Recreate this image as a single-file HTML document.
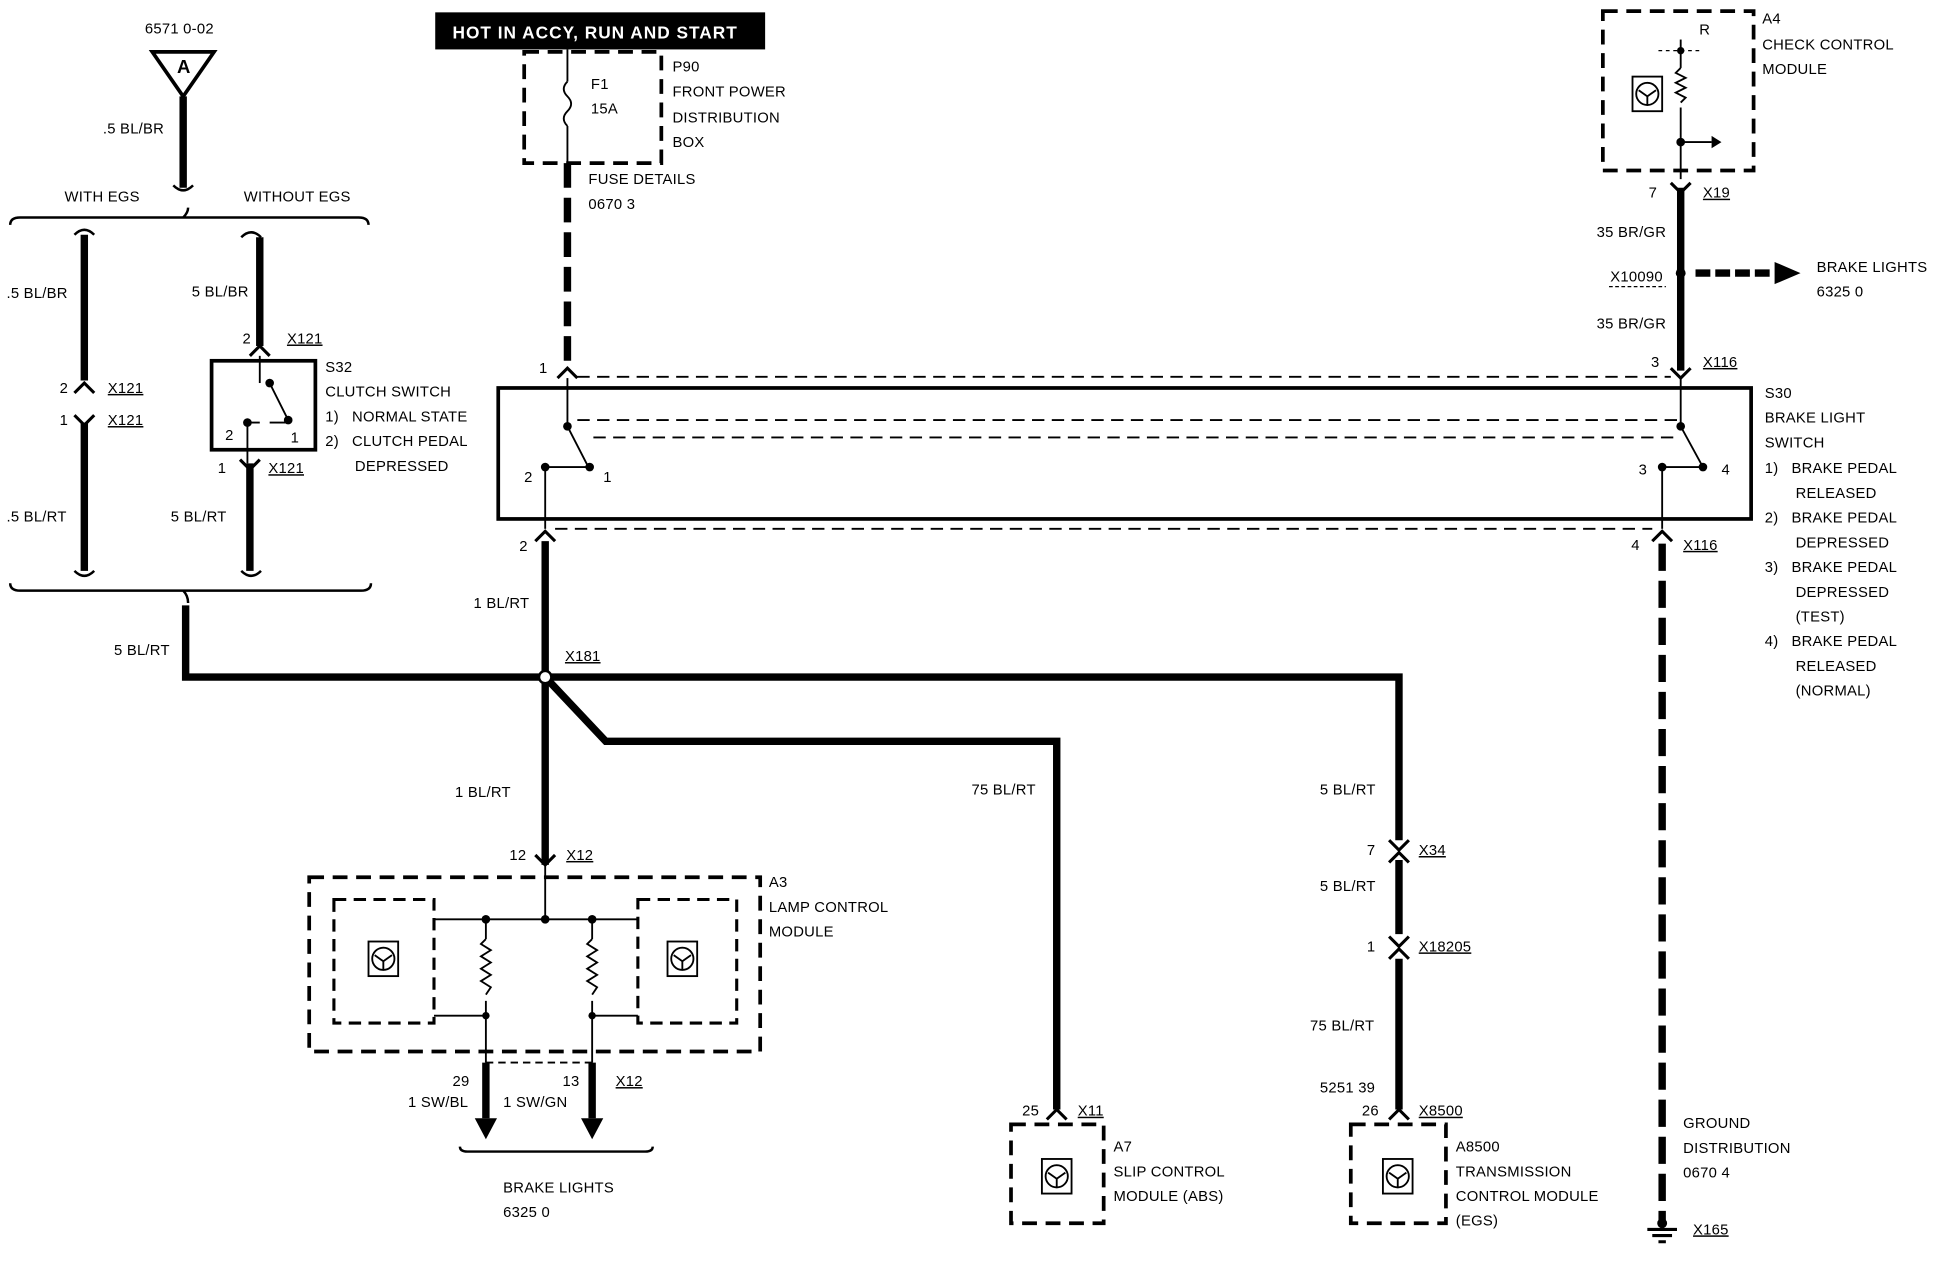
<!DOCTYPE html>
<html><head><meta charset="utf-8"><style>
html,body{margin:0;padding:0;background:#fff}
svg{display:block}
text{font-family:"Liberation Sans",sans-serif;font-size:12px;fill:#000;letter-spacing:0.2px}
</style></head><body>
<svg width="1938" height="1264" viewBox="0 0 1568 1023" xmlns="http://www.w3.org/2000/svg">
<defs>
<g id="ico"><rect x="-12" y="-14" width="24" height="28" fill="none" stroke="#000" stroke-width="1.5"/><circle r="9" fill="none" stroke="#000" stroke-width="1.5"/><path d="M-7,-3 L0,2 L7,-3 M0,2 L0,9" stroke="#000" stroke-width="1.5" fill="none"/></g>
</defs>
<g stroke="#000" fill="none" stroke-linecap="butt">
<!-- antenna A -->
<path d="M123,42 L173,42 L148,78 Z" stroke-width="3"/>
<line x1="148" y1="78" x2="148" y2="152" stroke-width="6"/>
<path d="M140,150 q8,8 16,0" stroke-width="2"/>
<!-- brackets -->
<path d="M8,182 q0,-6 8,-6 L290,176 q8,0 8,6 M148,176 q4,-4 4,-8" stroke-width="2"/>
<path d="M8,472 q0,6 8,6 L292,478 q8,0 8,-6 M148,478 q4,4 4,10" stroke-width="2"/>
<!-- left wire -->
<path d="M60,190 q8,-8 16,0 M60,462 q8,8 16,0" stroke-width="2"/>
<line x1="68" y1="190" x2="68" y2="308" stroke-width="6"/>
<line x1="68" y1="342" x2="68" y2="462" stroke-width="6"/>
<path d="M60,318 l8,-8 l8,8 M60,336 l8,8 l8,-8" stroke-width="2.5"/>
<!-- right EGS wire -->
<path d="M195,192 q8,-8 16,0 M195,462 q8,8 16,0" stroke-width="2"/>
<line x1="210" y1="192" x2="210" y2="280" stroke-width="6"/>
<path d="M202,288 l8,-8 l8,8" stroke-width="2.5"/>
<line x1="210" y1="288" x2="210" y2="310" stroke-width="1.5"/>
<rect x="171" y="292" width="84" height="72" stroke-width="3"/>
<path d="M218,310 L233,340 M200,342 L210,342 M218,342 L233,342" stroke-width="1.5"/>
<path d="M200,342 L200,375" stroke-width="1.5"/>
<line x1="202" y1="375" x2="202" y2="462" stroke-width="6"/>
<path d="M194,372 l8,8 l8,-8" stroke-width="2.5"/>
<!-- X121 feed to X181 -->
<polyline points="150,490 150,548 1132,548 1132,680" stroke-width="6"/>
<!-- fuse box -->
<rect x="424" y="42" width="111" height="90" stroke-width="3" stroke-dasharray="12,7"/>
<line x1="459" y1="40" x2="459" y2="66" stroke-width="1.5"/>
<path d="M459,66 q-6,6 0,12 q6,6 0,12 q-6,6 0,12" stroke-width="1.5"/>
<line x1="459" y1="102" x2="459" y2="132" stroke-width="1.5"/>
<line x1="459" y1="132" x2="459" y2="298" stroke-width="6" stroke-dasharray="20,8"/>
<path d="M451,306 l8,-8 l8,8" stroke-width="2.5"/>
<!-- S30 -->
<rect x="403" y="314" width="1014" height="106" stroke-width="3"/>
<line x1="467" y1="305" x2="1352" y2="305" stroke-width="1.5" stroke-dasharray="10,6"/>
<line x1="449" y1="428" x2="1337" y2="428" stroke-width="1.5" stroke-dasharray="10,6"/>
<line x1="467" y1="340" x2="1360" y2="340" stroke-width="1.5" stroke-dasharray="10,6"/>
<line x1="480" y1="354" x2="1360" y2="354" stroke-width="1.5" stroke-dasharray="10,6"/>
<line x1="459" y1="306" x2="459" y2="345" stroke-width="1.5"/>
<path d="M459,345 L477,380 M442,378 L477,378" stroke-width="1.5" stroke-dasharray="0"/>
<line x1="441" y1="378" x2="441" y2="428" stroke-width="1.5"/>
<path d="M433,438 l8,-8 l8,8" stroke-width="2.5"/>
<line x1="441" y1="438" x2="441" y2="700" stroke-width="6"/>
<line x1="1360" y1="306" x2="1360" y2="345" stroke-width="1.5"/>
<path d="M1360,345 L1378,378 M1345,378 L1378,378" stroke-width="1.5"/>
<line x1="1345" y1="378" x2="1345" y2="428" stroke-width="1.5"/>
<path d="M1337,438 l8,-8 l8,8" stroke-width="2.5"/>
<line x1="1345" y1="440" x2="1345" y2="988" stroke-width="6" stroke-dasharray="22,8"/>
<path d="M1333,995 L1357,995 M1337,1000 L1353,1000 M1342,1005 L1348,1005" stroke-width="2.5"/>
<!-- A4 -->
<rect x="1297" y="9" width="122" height="129" stroke-width="3" stroke-dasharray="12,7"/>
<line x1="1360" y1="32" x2="1360" y2="55" stroke-width="1.5"/>
<path d="M1342,41 L1378,41" stroke-width="1" stroke-dasharray="3,3"/>
<path d="M1360,55 l-4,4 l8,4 l-8,4 l8,4 l-8,4 l8,4 l-4,4" stroke-width="1.5"/>
<line x1="1360" y1="87" x2="1360" y2="145" stroke-width="1.5"/>
<path d="M1360,115 L1385,115" stroke-width="1.5"/>
<path d="M1385,110 L1393,115 L1385,120 Z" fill="#000" stroke="none"/>
<use href="#ico" x="1333" y="76"/>
<path d="M1352,148 l8,8 l8,-8" stroke-width="2.5"/>
<line x1="1360" y1="152" x2="1360" y2="300" stroke-width="6"/>
<path d="M1352,298 l8,8 l8,-8" stroke-width="2.5"/>
<path d="M1372,221 L1436,221" stroke-width="6" stroke-dasharray="12,4"/>
<path d="M1436,212 L1457,221 L1436,230 Z" fill="#000" stroke="none"/>
<line x1="1302" y1="232" x2="1348" y2="232" stroke-width="1" stroke-dasharray="3,2"/>
<!-- junction -->
<polyline points="441,548 490,600 855,600 855,898" stroke-width="6"/>
<path d="M847,906 l8,-8 l8,8" stroke-width="2.5"/>
<path d="M1124,680 l8,8 l8,-8 M1124,698 l8,-8 l8,8" stroke-width="2.5"/>
<line x1="1132" y1="696" x2="1132" y2="756" stroke-width="6"/>
<path d="M1124,758 l8,8 l8,-8 M1124,776 l8,-8 l8,8" stroke-width="2.5"/>
<line x1="1132" y1="776" x2="1132" y2="898" stroke-width="6"/>
<path d="M1124,906 l8,-8 l8,8" stroke-width="2.5"/>
<!-- A7, A8500 -->
<rect x="818" y="910" width="75" height="80" stroke-width="3" stroke-dasharray="12,7"/>
<use href="#ico" x="855" y="952"/>
<rect x="1093" y="910" width="77" height="80" stroke-width="3" stroke-dasharray="12,7"/>
<use href="#ico" x="1131" y="952"/>
<!-- A3 -->
<path d="M433,692 l8,8 l8,-8" stroke-width="2.5"/>
<rect x="250" y="710" width="365" height="141" stroke-width="3" stroke-dasharray="12,7"/>
<rect x="270" y="728" width="81" height="100" stroke-width="2.5" stroke-dasharray="10,6"/>
<rect x="516" y="728" width="80" height="100" stroke-width="2.5" stroke-dasharray="10,6"/>
<use href="#ico" x="310" y="776"/>
<use href="#ico" x="552" y="776"/>
<line x1="441" y1="700" x2="441" y2="744" stroke-width="1.5"/>
<path d="M351,744 L516,744 M393,744 L393,760 M479,744 L479,760 M393,810 L393,860 M479,810 L479,860 M351,822 L393,822 M479,822 L516,822" stroke-width="1.5"/>
<path d="M393,760 l-4,4 l8,5 l-8,5 l8,5 l-8,5 l8,5 l-8,5 l8,5 l-4,6 M479,760 l-4,4 l8,5 l-8,5 l8,5 l-8,5 l8,5 l-8,5 l8,5 l-4,6" stroke-width="1.5"/>
<line x1="393" y1="860" x2="479" y2="860" stroke-width="1.5" stroke-dasharray="6,4"/>
<line x1="393" y1="860" x2="393" y2="905" stroke-width="6"/>
<line x1="479" y1="860" x2="479" y2="905" stroke-width="6"/>
<path d="M384,905 L393,922 L402,905 Z M470,905 L479,922 L488,905 Z" fill="#000" stroke="none"/>
<path d="M372,928 q0,4 6,4 L522,932 q6,0 6,-4" stroke-width="2"/>
</g>
<g fill="#000">
<circle cx="441" cy="548" r="5" fill="#fff" stroke="#000" stroke-width="2"/>
<circle cx="1360" cy="221" r="4"/><circle cx="1360" cy="41" r="3"/><circle cx="1360" cy="115" r="3.5"/>
<circle cx="218" cy="310" r="3.5"/><circle cx="233" cy="340" r="3.5"/><circle cx="200" cy="342" r="3.5"/>
<circle cx="459" cy="345" r="3.5"/><circle cx="477" cy="378" r="3.5"/><circle cx="441" cy="378" r="3.5"/>
<circle cx="1360" cy="345" r="3.5"/><circle cx="1378" cy="378" r="3.5"/><circle cx="1345" cy="378" r="3.5"/>
<circle cx="441" cy="744" r="3.5"/><circle cx="393" cy="744" r="3.5"/><circle cx="479" cy="744" r="3.5"/>
<circle cx="393" cy="822" r="3"/><circle cx="479" cy="822" r="3"/>
<circle cx="1345" cy="990" r="4"/>
</g>
<rect x="352" y="10" width="267" height="30" fill="#000"/>
<text x="366" y="31" style="fill:#fff;font-weight:bold;font-size:14px;letter-spacing:0.8px">HOT IN ACCY, RUN AND START</text>
<text x="143" y="59" style="font-weight:bold;font-size:15px">A</text>
<g>
<text x="117" y="27">6571 0-02</text>
<text x="83" y="108">.5 BL/BR</text>
<text x="52" y="163">WITH EGS</text>
<text x="197" y="163">WITHOUT EGS</text>
<text x="5" y="241">.5 BL/BR</text>
<text x="155" y="240">5 BL/BR</text>
<text x="196" y="278">2</text><text x="232" y="278" text-decoration="underline">X121</text>
<text x="48" y="318">2</text><text x="87" y="318" text-decoration="underline">X121</text>
<text x="48" y="344">1</text><text x="87" y="344" text-decoration="underline">X121</text>
<text x="182" y="356">2</text><text x="235" y="358">1</text>
<text x="176" y="383">1</text><text x="217" y="383" text-decoration="underline">X121</text>
<text x="5" y="422">.5 BL/RT</text>
<text x="138" y="422">5 BL/RT</text>
<text x="92" y="530">5 BL/RT</text>
<text x="263" y="301">S32</text>
<text x="263" y="321">CLUTCH SWITCH</text>
<text x="263" y="341">1)&#160;&#160; NORMAL STATE</text>
<text x="263" y="361">2)&#160;&#160; CLUTCH PEDAL</text>
<text x="287" y="381">DEPRESSED</text>
<text x="478" y="72">F1</text><text x="478" y="92">15A</text>
<text x="544" y="58">P90</text>
<text x="544" y="78">FRONT POWER</text>
<text x="544" y="99">DISTRIBUTION</text>
<text x="544" y="119">BOX</text>
<text x="476" y="149">FUSE DETAILS</text>
<text x="476" y="169">0670 3</text>
<text x="436" y="302">1</text>
<text x="424" y="390">2</text><text x="488" y="390">1</text>
<text x="1326" y="384">3</text><text x="1393" y="384">4</text>
<text x="420" y="446">2</text>
<text x="383" y="492">1 BL/RT</text>
<text x="457" y="535" text-decoration="underline">X181</text>
<text x="1375" y="28">R</text>
<text x="1426" y="19">A4</text>
<text x="1426" y="40">CHECK CONTROL</text>
<text x="1426" y="60">MODULE</text>
<text x="1334" y="160">7</text><text x="1378" y="160" text-decoration="underline">X19</text>
<text x="1292" y="192">35 BR/GR</text>
<text x="1303" y="228">X10090</text>
<text x="1470" y="220">BRAKE LIGHTS</text>
<text x="1470" y="240">6325 0</text>
<text x="1292" y="266">35 BR/GR</text>
<text x="1336" y="297">3</text><text x="1378" y="297" text-decoration="underline">X116</text>
<text x="1428" y="322">S30</text>
<text x="1428" y="342">BRAKE LIGHT</text>
<text x="1428" y="362">SWITCH</text>
<text x="1428" y="383">1)&#160;&#160; BRAKE PEDAL</text>
<text x="1453" y="403">RELEASED</text>
<text x="1428" y="423">2)&#160;&#160; BRAKE PEDAL</text>
<text x="1453" y="443">DEPRESSED</text>
<text x="1428" y="463">3)&#160;&#160; BRAKE PEDAL</text>
<text x="1453" y="483">DEPRESSED</text>
<text x="1453" y="503">(TEST)</text>
<text x="1428" y="523">4)&#160;&#160; BRAKE PEDAL</text>
<text x="1453" y="543">RELEASED</text>
<text x="1453" y="563">(NORMAL)</text>
<text x="1320" y="445">4</text><text x="1362" y="445" text-decoration="underline">X116</text>
<text x="1362" y="913">GROUND</text>
<text x="1362" y="933">DISTRIBUTION</text>
<text x="1362" y="953">0670 4</text>
<text x="1370" y="999" text-decoration="underline">X165</text>
<text x="368" y="645">1 BL/RT</text>
<text x="786" y="643">75 BL/RT</text>
<text x="1068" y="643">5 BL/RT</text>
<text x="1106" y="692">7</text><text x="1148" y="692" text-decoration="underline">X34</text>
<text x="1068" y="721">5 BL/RT</text>
<text x="1106" y="770">1</text><text x="1148" y="770" text-decoration="underline">X18205</text>
<text x="1060" y="834">75 BL/RT</text>
<text x="1068" y="884">5251 39</text>
<text x="1102" y="903">26</text><text x="1148" y="903" text-decoration="underline">X8500</text>
<text x="1178" y="932">A8500</text>
<text x="1178" y="952">TRANSMISSION</text>
<text x="1178" y="972">CONTROL MODULE</text>
<text x="1178" y="992">(EGS)</text>
<text x="827" y="903">25</text><text x="872" y="903" text-decoration="underline">X11</text>
<text x="901" y="932">A7</text>
<text x="901" y="952">SLIP CONTROL</text>
<text x="901" y="972">MODULE (ABS)</text>
<text x="412" y="696">12</text><text x="458" y="696" text-decoration="underline">X12</text>
<text x="622" y="718">A3</text>
<text x="622" y="738">LAMP CONTROL</text>
<text x="622" y="758">MODULE</text>
<text x="366" y="879">29</text><text x="330" y="896">1 SW/BL</text>
<text x="455" y="879">13</text><text x="498" y="879" text-decoration="underline">X12</text>
<text x="407" y="896">1 SW/GN</text>
<text x="407" y="965">BRAKE LIGHTS</text>
<text x="407" y="985">6325 0</text>
</g>
</svg>
</body></html>
